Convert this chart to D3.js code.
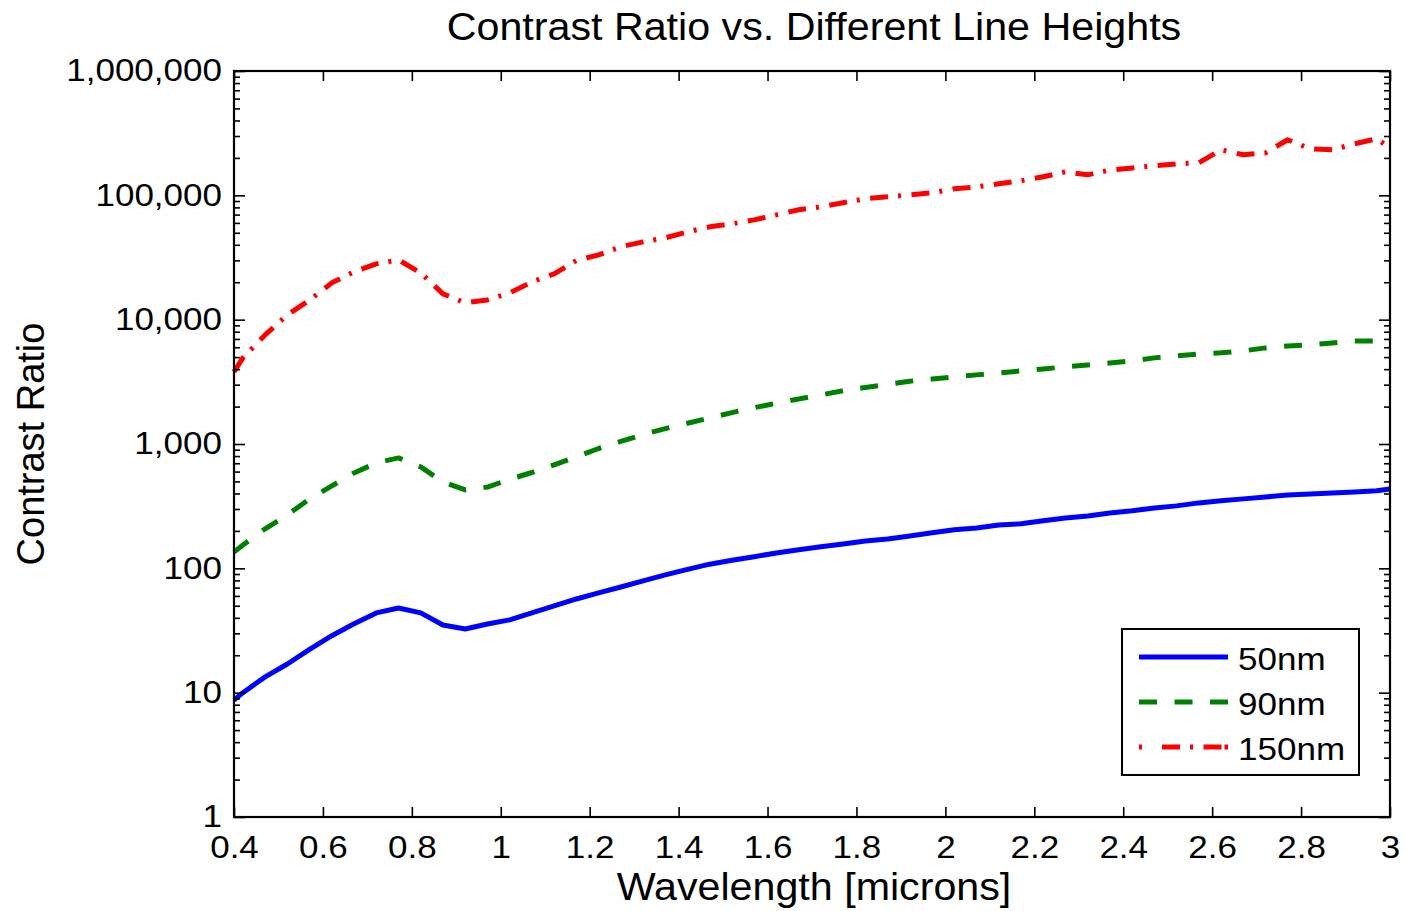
<!DOCTYPE html>
<html>
<head>
<meta charset="utf-8">
<script src="https://cdn.jsdelivr.net/npm/d3@7"></script>
<style>
  body { margin: 0; background: #fff; }
  text { font-family: "Liberation Sans", Arial, sans-serif; fill: #000; }
</style>
</head>
<body>
<div id="chartDiv"></div>
<script>
// wavelength [microns]
const wavelength = [0.40,0.42,0.47,0.52,0.57,0.62,0.67,0.72,0.77,0.82,0.87,0.92,0.97,1.02,1.07,1.12,1.17,1.22,1.27,1.32,1.37,1.42,1.47,1.52,1.57,1.62,1.67,1.72,1.77,1.82,1.87,1.92,1.97,2.02,2.07,2.12,2.17,2.22,2.27,2.32,2.37,2.42,2.47,2.52,2.57,2.62,2.67,2.72,2.77,2.82,2.87,2.92,2.97,3.00];

const cr50 = [8.7,10.0,13.4,17.0,22.3,28.7,35.8,43.8,48.0,43.8,35.0,32.5,35.7,38.5,43.8,49.9,56.7,63.4,70.8,79.2,88.5,98,108,116,124,133,141,149,157,166,172,182,193,204,211,223,228,241,254,264,279,290,306,318,336,349,362,375,389,397,404,412,420,435];

const cr90 = [135,154,208,269,362,460,585,704,773,654,495,427,450,520,590,680,790,920,1050,1190,1330,1470,1620,1790,1960,2130,2300,2480,2680,2850,3020,3200,3330,3467,3597,3733,3873,4018,4169,4325,4488,4662,4929,5114,5306,5408,5610,5929,6152,6266,6501,6745,6745,6871];

const cr150 = [3802,4929,7546,10900,14400,19770,24230,28110,30270,23770,16140,13650,14420,16430,20140,23330,29900,33200,38540,42270,45500,50830,55800,59000,63500,69700,76500,80900,87200,94000,97300,100900,104700,112800,117000,123800,130900,141000,154500,146200,159800,165900,172700,179200,182500,232300,211800,219800,279800,236600,232300,259400,285000,241000];

const seriesNames = ["50nm", "90nm", "150nm"];
const xTicks = [0.4,0.6,0.8,1,1.2,1.4,1.6,1.8,2,2.2,2.4,2.6,2.8,3];
const yTicks = [1,10,100,1000,10000,100000,1000000];

const W = 1407, H = 911;
const box = { left: 234, right: 1390, top: 71, bottom: 817 };

const svg = d3.select("#chartDiv").append("svg")
    .attr("width", W)
    .attr("height", H);

const x = d3.scaleLinear().domain([0.4, 3]).range([box.left, box.right]);
const y = d3.scaleLog().domain([1, 1e6]).range([box.bottom, box.top]);

// minor log ticks 2..9 per decade
const yMinor = [];
yTicks.slice(0, -1).forEach(d => { for (let k = 2; k < 10; k++) yMinor.push(d * k); });

// horizontal stretch of text, like the original export
function stretch(sel, k) {
    sel.each(function(){
        const t = d3.select(this);
        const x0 = +t.attr("x") || 0;
        t.attr("x", x0 / k).attr("transform", `scale(${k},1)`);
    });
}

// data lines
const series = [
    { name: seriesNames[0], values: cr50, color: "#0000ff", dash: null },
    { name: seriesNames[1], values: cr90, color: "#008000", dash: "18,17.5" },
    { name: seriesNames[2], values: cr150, color: "#ff0000", dash: "18,10,3,10.5" }
];

const line = d3.line()
    .x((d, i) => x(wavelength[i]))
    .y(d => y(d));

svg.append("g").selectAll("path")
    .data(series)
    .enter().append("path")
    .attr("d", d => line(d.values))
    .attr("fill", "none")
    .attr("stroke", d => d.color)
    .attr("stroke-width", 5)
    .attr("stroke-linejoin", "round")
    .attr("stroke-dasharray", d => d.dash);

// axes, ticks pointing inward, mirrored like matlab
const fmtY = d3.format(",");

const gx = svg.append("g")
    .attr("transform", `translate(0,${box.bottom})`)
    .call(d3.axisBottom(x).tickValues(xTicks).tickSize(-10).tickSizeOuter(0).tickPadding(19)
        .tickFormat(d => d3.format("")(d)));
svg.append("g")
    .attr("transform", `translate(0,${box.top})`)
    .call(d3.axisTop(x).tickValues(xTicks).tickSize(-10).tickSizeOuter(0).tickFormat(""));

const gy = svg.append("g")
    .attr("transform", `translate(${box.left},0)`)
    .call(d3.axisLeft(y).tickValues(yTicks).tickSize(-11).tickSizeOuter(0).tickPadding(12).tickFormat(fmtY));
svg.append("g")
    .attr("transform", `translate(${box.left},0)`)
    .call(d3.axisLeft(y).tickValues(yMinor).tickSize(-6).tickSizeOuter(0).tickFormat(""));
svg.append("g")
    .attr("transform", `translate(${box.right},0)`)
    .call(d3.axisRight(y).tickValues(yTicks).tickSize(-11).tickSizeOuter(0).tickFormat(""));
svg.append("g")
    .attr("transform", `translate(${box.right},0)`)
    .call(d3.axisRight(y).tickValues(yMinor).tickSize(-6).tickSizeOuter(0).tickFormat(""));

svg.selectAll(".domain").remove();
svg.selectAll(".tick line").attr("stroke", "#000").attr("stroke-width", 1.6);
svg.selectAll(".tick text").style("font-size", "31px").attr("fill", "#000");
stretch(gx.selectAll(".tick text"), 1.13);
stretch(gy.selectAll(".tick text"), 1.13);

// axes box
svg.append("rect")
    .attr("x", box.left).attr("y", box.top)
    .attr("width", box.right - box.left).attr("height", box.bottom - box.top)
    .attr("fill", "none").attr("stroke", "#000").attr("stroke-width", 2.2);

// title and labels
const title = svg.append("text")
    .attr("x", (box.left + box.right) / 2 + 2).attr("y", 40)
    .attr("text-anchor", "middle")
    .style("font-size", "38px")
    .text("Contrast Ratio vs. Different Line Heights");
stretch(title, 1.085);

const xlab = svg.append("text")
    .attr("x", (box.left + box.right) / 2 + 2).attr("y", 900)
    .attr("text-anchor", "middle")
    .style("font-size", "38px")
    .text("Wavelength [microns]");
stretch(xlab, 1.085);

svg.append("text")
    .attr("transform", `translate(44,${(box.top + box.bottom) / 2}) rotate(-90)`)
    .attr("text-anchor", "middle")
    .style("font-size", "38px")
    .text("Contrast Ratio");

// legend
const leg = svg.append("g");
leg.append("rect")
    .attr("x", 1122).attr("y", 629)
    .attr("width", 237).attr("height", 146)
    .attr("fill", "#fff").attr("stroke", "#000").attr("stroke-width", 2);

const items = leg.selectAll("g.item")
    .data(series)
    .enter().append("g")
    .attr("class", "item")
    .attr("transform", (d, i) => `translate(0,${657 + i * 45})`);

items.append("line")
    .attr("x1", 1139).attr("x2", 1228)
    .attr("stroke", d => d.color)
    .attr("stroke-width", 5)
    .attr("stroke-dasharray", d => d.name == "150nm" ? "3,20,18,10,3,10.5,18" : d.dash);

const legText = items.append("text")
    .attr("x", 1238).attr("y", 13)
    .style("font-size", "31px")
    .text(d => d.name);
stretch(legText, 1.13);
</script>
</body>
</html>
